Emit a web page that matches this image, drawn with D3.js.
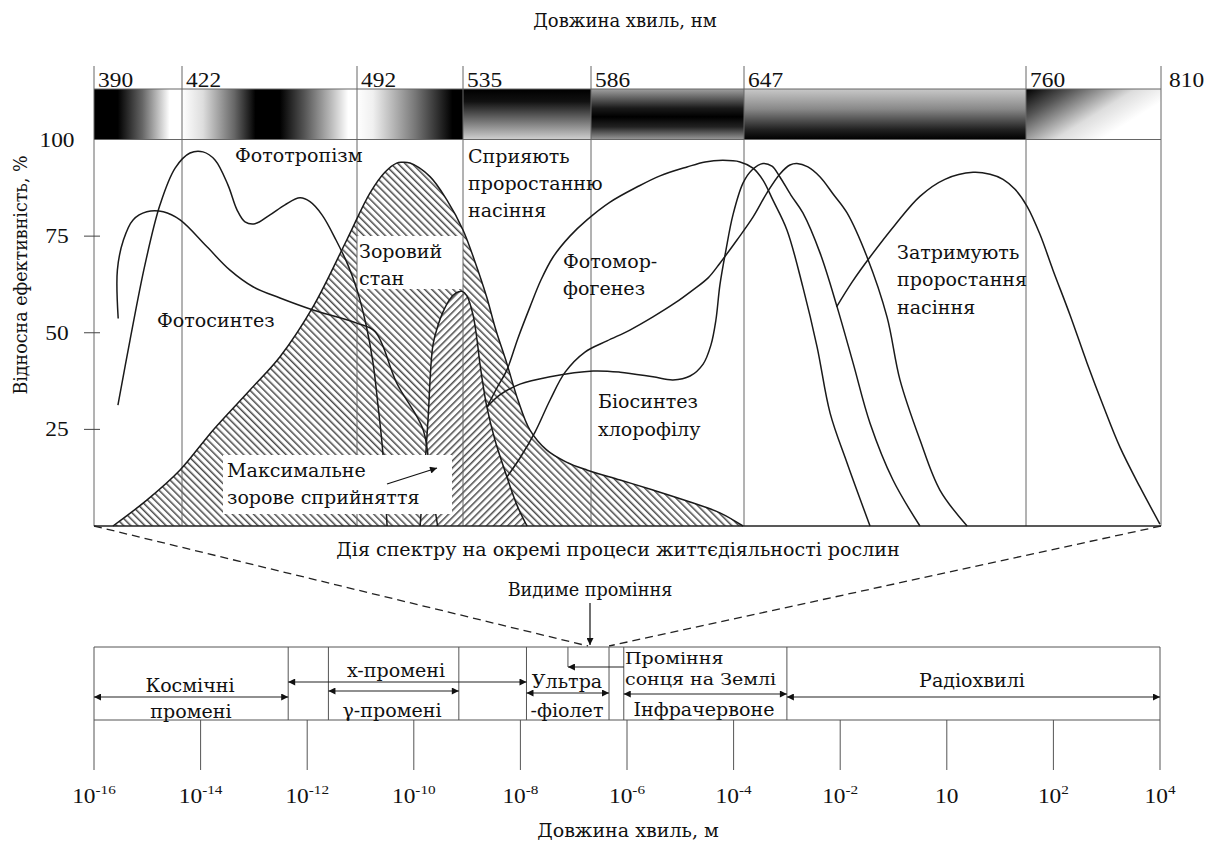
<!DOCTYPE html>
<html><head><meta charset="utf-8">
<script src="https://cdn.jsdelivr.net/npm/d3@7"></script>
<style>
body{margin:0;background:#fff}
svg{display:block}
text{font-family:"Liberation Serif","DejaVu Serif",serif;fill:#111}
text.cyr{font-family:"DejaVu Serif","Liberation Serif",serif}
</style>
</head><body>
<svg id="c" width="1221" height="845"></svg>
<script>
// ---------------- DATA ----------------
const bandEdges = [390, 422, 492, 535, 586, 647, 760, 810];           // nm
const yTicks = [25, 50, 75, 100];                                      // %
// curves: [wavelength nm, relative efficiency %]
const phototropism = [[398.7,31.3],[403.1,48.1],[408.5,67.5],[414.0,83.1],[419.5,92.6],[425.2,96.5],[430.4,96.8],[435.2,94.7],[440.4,88.2],[444.0,81.8],[447.2,78.7],[451.2,78.2],[457.2,80.5],[463.2,83.1],[469.2,84.9],[473.2,83.9],[478.0,80.5],[483.6,74.0],[488.4,67.5],[492.0,61.1],[495.7,52.0],[498.5,42.2],[500.5,31.3],[502.5,18.9],[504.2,0]];
const photosynthesis = [[398.8,53.7],[398.5,66.2],[400.7,74.0],[404.2,79.2],[409.2,81.3],[415.2,81.3],[421.3,79.2],[431.9,72.3],[441.2,66.2],[450.4,61.9],[461.2,59.0],[474.4,55.9],[491.9,52.5],[499.3,50.3],[508.1,37.0],[518.9,24.8],[521.8,11.9],[524.7,0]];
const visionState = [[396.9,0],[409.2,6.7],[421.3,14.5],[434.4,24.8],[449.2,35.2],[461.2,43.8],[474.4,56.7],[487.9,74.0],[497.3,86.2],[503.4,91.6],[508.1,93.9],[510.2,94.1],[513.5,93.9],[521.6,90.4],[528.5,84.3],[535.0,76.6],[539.8,68.3],[544.4,59.3],[548.1,50.7],[552.4,42.2],[556.9,32.6],[561.7,24.8],[568.3,19.7],[576.0,16.6],[584.3,14.5],[597.6,11.9],[610.7,9.3],[625.5,6.2],[637.4,3.4],[646.6,0]];
const maxPerception = [[517.6,0],[518.4,6.7],[519.6,15.8],[520.8,27.4],[522.8,46.8],[524.9,52.0],[526.9,55.4],[529.7,58.7],[532.2,60.3],[534.6,60.7],[536.6,59.5],[539.0,54.6],[540.6,48.1],[541.7,42.2],[543.3,35.2],[544.5,30.8],[547.7,22.3],[552.5,12.7],[556.5,5.4],[560.5,0]];
const photomorphogenesis = [[544.6,30.8],[548.5,35.7],[552.5,40.4],[556.9,48.6],[561.7,56.7],[566.1,63.7],[570.9,69.6],[577.6,75.0],[584.4,79.2],[593.6,83.8],[604.3,87.7],[613.5,90.6],[624.3,92.9],[631.5,94.2],[638.6,94.6],[645.4,94.2],[650.6,92.6],[654.6,89.5],[658.6,84.3],[664.2,76.6],[670.6,61.8],[676.3,46.3],[681.5,29.2],[688.3,16.3],[697.5,0]];
const chlorophyll = [[544.6,30.8],[549.7,33.9],[557.7,36.7],[569.7,38.6],[586.8,40.1],[597.6,39.8],[610.7,38.6],[618.7,37.8],[625.5,38.8],[630.7,41.9],[633.8,46.8],[635.8,53.3],[637.4,62.4],[639.8,71.4],[642.6,80.5],[646.6,88.7],[650.2,92.1],[654.6,93.8],[658.2,93.1],[661.4,90.3],[665.8,85.6],[670.6,81.0],[677.5,70.6],[684.3,56.7],[690.7,42.2],[697.5,26.6],[706.7,11.9],[717.5,0]];
const germinationPromote = [[552.5,12.7],[557.7,17.6],[563.7,24.3],[569.7,32.6],[575.7,39.8],[583.6,45.0],[592.4,47.9],[601.5,50.7],[610.7,54.1],[619.5,57.7],[626.7,61.1],[632.7,64.2],[637.4,68.0],[644.2,74.0],[650.6,79.9],[656.2,86.2],[661.4,91.1],[665.4,93.4],[668.2,93.8],[672.6,92.9],[677.5,90.3],[682.7,85.9],[688.3,81.0],[696.3,69.6],[704.3,54.1],[709.5,37.8],[717.5,22.3],[725.5,9.3],[736.4,0]];
const germinationDelay = [[684.1,56.7],[690.3,63.1],[697.5,69.6],[707.5,77.9],[717.5,85.3],[727.5,89.7],[738.8,91.5],[745.6,91.0],[750.8,89.7],[755.6,87.1],[760.4,82.7],[765.2,75.4],[770.0,66.2],[776.3,54.6],[782.6,42.2],[788.5,31.3],[794.8,20.4],[802.2,10.1],[809.6,0.5]];

// electromagnetic spectrum (metres)
const emTicks = [-16, -14, -12, -10, -8, -6, -4, -2, 0, 2, 4];
const emTickSup = ["-16","-14","-12","-10","-8","-6","-4","-2","","2","4"];
const cosmicRange = [1e-16, 4.4e-13];
const xrayRange = [4.4e-13, 1.3e-8];
const gammaRange = [2.5e-12, 7e-10];
const uvRange = [1.3e-8, 4.6e-7];
const visibleRange = [4.6e-7, 8.7e-7];
const visibleMark = 7.8e-8;
const irRange = [8.7e-7, 1e-3];
const radioRange = [1e-3, 1e4];

// ---------------- SETUP ----------------
const svg = d3.select('#c');
const defs = svg.append('defs');
const FS = 20, SX = 1.17;      // digits
const CFS = 18, CSX = 1.06;    // cyrillic text
const isCyr = s => /[\u0400-\u04FF]/.test(s);
function txt(x, y, s, opt = {}) {
  const c = isCyr(s);
  return svg.append('text').classed('cyr', c)
    .attr('transform', `translate(${x},${y}) scale(${opt.sx || (c ? CSX : SX)},1)`)
    .attr('text-anchor', opt.anchor || 'start')
    .attr('font-size', opt.size || (c ? CFS : FS))
    .text(s);
}

const x = d3.scaleLinear().domain(bandEdges).range([94, 182, 357, 463, 591, 744, 1026, 1161]);
const y = d3.scaleLinear().domain([0, 100]).range([526, 139.5]);
const xm = d3.scaleLog().domain([1e-16, 1e4]).range([94, 1160]);
const barTop = 89, gridTop = 66;

// hatch patterns
function hatch(id, angle) {
  const p = defs.append('pattern').attr('id', id).attr('patternUnits', 'userSpaceOnUse')
    .attr('width', 5).attr('height', 5).attr('patternTransform', `rotate(${angle})`);
  p.append('rect').attr('width', 5).attr('height', 5).attr('fill', '#fff');
  p.append('rect').attr('width', 1.5).attr('height', 5).attr('fill', '#4a4a4a');
}
hatch('hA', -45);
hatch('hB', 45);

// spectrum gradients
const grads = [
  {x2: 1, y2: 0, s: [[0,'#000'],[0.27,'#000'],[0.55,'#666'],[0.86,'#fff'],[1,'#fff']]},
  {x2: 1, y2: 0, s: [[0,'#fff'],[0.12,'#ddd'],[0.3,'#666'],[0.42,'#000'],[0.56,'#000'],[0.7,'#555'],[0.86,'#c0c0c0'],[0.95,'#fff'],[1,'#fff']]},
  {x2: 1, y2: 0, s: [[0,'#fff'],[0.15,'#f0f0f0'],[0.55,'#777'],[0.9,'#000'],[1,'#000']]},
  {x2: 0, y2: 1, s: [[0,'#000'],[0.25,'#111'],[0.65,'#777'],[1,'#d0d0d0']]},
  {x2: 0, y2: 1, s: [[0,'#a0a0a0'],[0.38,'#1a1a1a'],[0.55,'#000'],[0.75,'#222'],[1,'#9a9a9a']]},
  {x2: 0, y2: 1, s: [[0,'#c8c8c8'],[0.4,'#888'],[0.8,'#222'],[1,'#000']]},
  {x2: 1, y2: 0.6, s: [[0,'#000'],[0.25,'#555'],[0.6,'#ddd'],[0.85,'#fff'],[1,'#fff']]}
];
grads.forEach((g, i) => {
  const lg = defs.append('linearGradient').attr('id', 'sg' + i)
    .attr('x1', 0).attr('y1', 0).attr('x2', g.x2).attr('y2', g.y2);
  g.s.forEach(st => lg.append('stop').attr('offset', st[0]).attr('stop-color', st[1]));
});

// arrow marker
defs.append('marker').attr('id', 'ah').attr('viewBox', '0 0 10 10').attr('refX', 10).attr('refY', 5)
  .attr('markerWidth', 10).attr('markerHeight', 7).attr('markerUnits', 'userSpaceOnUse')
  .attr('orient', 'auto-start-reverse')
  .append('path').attr('d', 'M0,0L10,5L0,10z').attr('fill', '#111');

// ---------------- TOP: spectrum bar ----------------
d3.pairs(bandEdges).forEach((p, i) => {
  svg.append('rect').attr('x', x(p[0])).attr('y', barTop).attr('width', x(p[1]) - x(p[0]))
    .attr('height', y(100) - barTop).attr('fill', `url(#sg${i})`);
});

// ---------------- hatched areas ----------------
const curve = d3.curveCatmullRom.alpha(0.5);
const area = d3.area().x(d => x(d[0])).y0(y(0)).y1(d => y(d[1])).curve(curve);
const line = d3.line().x(d => x(d[0])).y(d => y(d[1])).curve(curve);

svg.append('path').attr('d', area(visionState)).attr('fill', 'url(#hA)');
svg.append('path').attr('d', area(maxPerception)).attr('fill', 'url(#hB)');

// white label backgrounds
svg.append('rect').attr('x', 357).attr('y', 236).attr('width', 106).attr('height', 53).attr('fill', '#fff');
svg.append('rect').attr('x', 154).attr('y', 311).attr('width', 126).attr('height', 23).attr('fill', '#fff');

// grid / frame
bandEdges.forEach(b => {
  svg.append('line').attr('x1', x(b)).attr('x2', x(b)).attr('y1', gridTop).attr('y2', y(0))
    .attr('stroke', '#666').attr('stroke-width', 1);
});
svg.append('line').attr('x1', x(390)).attr('x2', x(810)).attr('y1', barTop).attr('y2', barTop).attr('stroke', '#666');
svg.append('line').attr('x1', x(390)).attr('x2', x(810)).attr('y1', y(100)).attr('y2', y(100)).attr('stroke', '#666');
svg.append('line').attr('x1', x(390)).attr('x2', x(810)).attr('y1', y(0)).attr('y2', y(0)).attr('stroke', '#222').attr('stroke-width', 1.6);

// y ticks
yTicks.forEach(t => {
  if (t < 100) svg.append('line').attr('x1', 84).attr('x2', 100).attr('y1', y(t)).attr('y2', y(t)).attr('stroke', '#444');
  txt(57, y(t) + 7, String(t), {anchor: 'middle'});
});

// wavelength labels
bandEdges.forEach((b, i) => {
  txt(x(b) + (i === bandEdges.length - 1 ? 8 : 4), 87, String(b));
});

// ---------------- curves ----------------
[phototropism, photosynthesis, visionState, maxPerception, photomorphogenesis, chlorophyll, germinationPromote, germinationDelay]
  .forEach(c => svg.append('path').attr('d', line(c)).attr('fill', 'none').attr('stroke', '#1a1a1a').attr('stroke-width', 1.5));

// max perception box
svg.append('rect').attr('x', 223).attr('y', 455).attr('width', 229).attr('height', 59).attr('fill', '#fff');
svg.append('line').attr('x1', 387).attr('y1', 484).attr('x2', 437).attr('y2', 468)
  .attr('stroke', '#111').attr('stroke-width', 1.2).attr('marker-end', 'url(#ah)');

// ---------------- labels ----------------
txt(625, 27, 'Довжина хвиль, нм', {anchor: 'middle', sx: 1.0});
svg.append('text').classed('cyr', true).attr('transform', `translate(27,275) rotate(-90) scale(1,${CSX})`)
  .attr('text-anchor', 'middle').attr('font-size', 17.5).text('Відносна ефективність, %');
txt(235, 162, 'Фототропізм');
txt(468, 163, 'Сприяють');
txt(468, 190, 'проростанню');
txt(468, 217, 'насіння');
txt(359, 258, 'Зоровий');
txt(359, 285, 'стан');
txt(157, 327, 'Фотосинтез');
txt(563, 268, 'Фотомор-');
txt(563, 295, 'фогенез');
txt(598, 408, 'Біосинтез');
txt(598, 436, 'хлорофілу');
txt(897, 259, 'Затримують');
txt(897, 286, 'проростання');
txt(897, 314, 'насіння');
txt(227, 477, 'Максимальне');
txt(227, 504, 'зорове сприйняття');
txt(618, 556, 'Дія спектру на окремі процеси життєдіяльності рослин', {anchor: 'middle'});

// ---------------- BOTTOM: EM spectrum ----------------
const boxTop = 647, boxBot = 720;
// dashed connectors
svg.append('line').attr('x1', x(390)).attr('y1', y(0)).attr('x2', 588).attr('y2', boxTop - 1)
  .attr('stroke', '#222').attr('stroke-width', 1.3).attr('stroke-dasharray', '8,5');
svg.append('line').attr('x1', x(810)).attr('y1', y(0)).attr('x2', xm(visibleRange[0])).attr('y2', boxTop - 1)
  .attr('stroke', '#222').attr('stroke-width', 1.3).attr('stroke-dasharray', '8,5');

txt(590, 596, 'Видиме проміння', {anchor: 'middle', sx: 0.98});
svg.append('line').attr('x1', 590).attr('x2', 590).attr('y1', 603).attr('y2', 645)
  .attr('stroke', '#111').attr('stroke-width', 1.2).attr('marker-end', 'url(#ah)');

const bx = () => svg.append('line').attr('stroke', '#555').attr('stroke-width', 1);
bx().attr('x1', xm(1e-16)).attr('x2', xm(1e4)).attr('y1', boxTop).attr('y2', boxTop);
bx().attr('x1', xm(1e-16)).attr('x2', xm(1e4)).attr('y1', boxBot).attr('y2', boxBot);
[cosmicRange[1], gammaRange[0], gammaRange[1], uvRange[0], visibleRange[0], visibleRange[1], irRange[1]]
  .forEach(v => bx().attr('x1', xm(v)).attr('x2', xm(v)).attr('y1', boxTop).attr('y2', boxBot));
bx().attr('x1', xm(visibleMark)).attr('x2', xm(visibleMark)).attr('y1', boxTop).attr('y2', 667);
// ticks (incl. frame ends)
emTicks.forEach(e => {
  const top = (e === -16 || e === 4) ? boxTop : boxBot;
  bx().attr('x1', xm(Math.pow(10, e))).attr('x2', xm(Math.pow(10, e))).attr('y1', top).attr('y2', 770);
});

function arrow(r, yy, both = true) {
  const l = svg.append('line').attr('x1', xm(r[0])).attr('x2', xm(r[1])).attr('y1', yy).attr('y2', yy)
    .attr('stroke', '#222').attr('stroke-width', 1.2).attr('marker-end', 'url(#ah)');
  if (both) l.attr('marker-start', 'url(#ah)');
}
arrow(cosmicRange, 697);
arrow(xrayRange, 682);
arrow(gammaRange, 691);
arrow(uvRange, 693);
arrow([visibleRange[1], visibleMark], 667, false);
arrow(irRange, 694);
arrow(radioRange, 697);

txt(190, 692, 'Космічні', {anchor: 'middle'});
txt(191, 718, 'промені', {anchor: 'middle'});
txt(396, 677, 'x-промені', {anchor: 'middle'});
txt(392, 717, 'γ-промені', {anchor: 'middle'});
txt(567, 688, 'Ультра', {anchor: 'middle'});
txt(567, 717, '-фіолет', {anchor: 'middle'});
txt(625, 664, 'Проміння', {size: 17, sx: 1.12});
txt(625, 685, 'сонця на Землі', {size: 17, sx: 1.12});
txt(704, 716, 'Інфрачервоне', {anchor: 'middle'});
txt(972, 687, 'Радіохвилі', {anchor: 'middle'});

// tick labels
emTicks.forEach((e, i) => {
  const t = svg.append('text')
    .attr('transform', `translate(${xm(Math.pow(10, e))},803) scale(${SX},1)`)
    .attr('text-anchor', 'middle').attr('font-size', 20);
  t.append('tspan').text('10');
  if (emTickSup[i]) t.append('tspan').attr('font-size', 13).attr('dy', -9).text(emTickSup[i]);
});
txt(628, 837, 'Довжина хвиль, м', {anchor: 'middle'});
</script>
</body></html>
